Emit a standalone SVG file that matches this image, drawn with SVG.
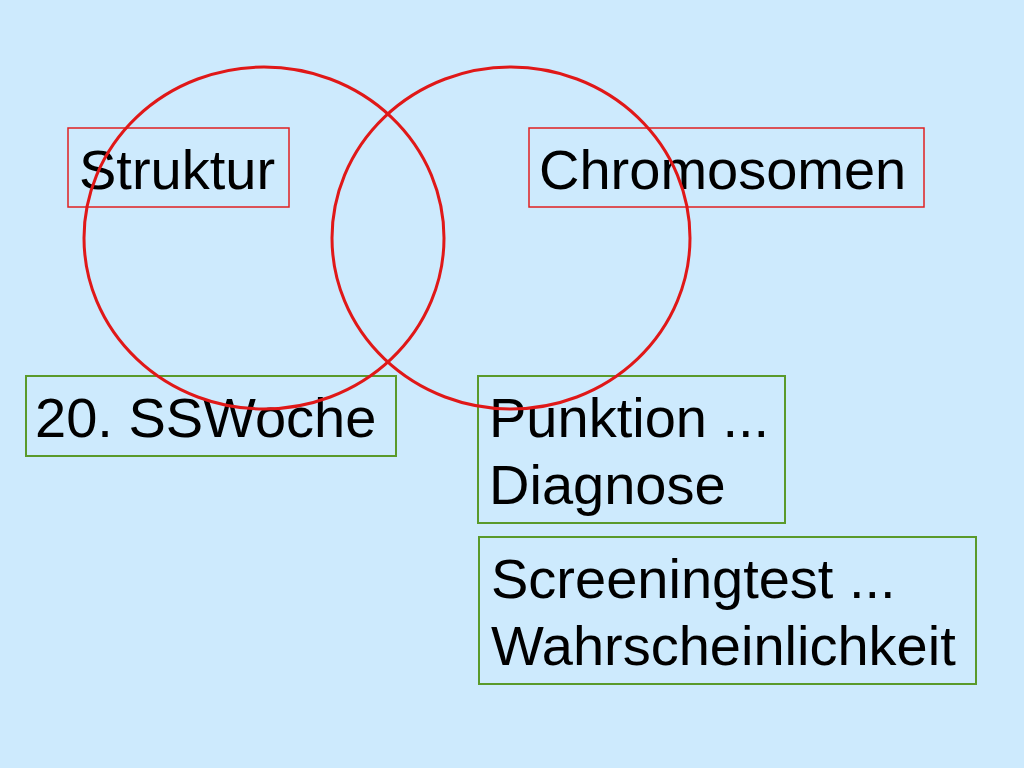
<svg xmlns="http://www.w3.org/2000/svg" width="1024" height="768" viewBox="0 0 1024 768">
<style>
.r{fill:none;stroke:#e02020;stroke-width:1.5}
.g{fill:none;stroke:#5a9a2a;stroke-width:2}
.c{fill:none;stroke:#e01818;stroke-width:3}
text{font-family:"Liberation Sans",Arial,sans-serif;font-size:56px;fill:#000}
</style>
<rect width="1024" height="768" fill="#cdeafd"/>
<g id="n1"><rect class="r" x="68" y="128" width="221" height="79"/><text x="79" y="189">Struktur</text></g>
<g id="n2"><rect class="r" x="529" y="128" width="395" height="79"/><text x="539" y="189">Chromosomen</text></g>
<g id="n3"><rect class="g" x="26" y="376" width="370" height="80"/><text x="35" y="437">20. SSWoche</text></g>
<g id="n4"><rect class="g" x="478" y="376" width="307" height="147"/><text x="489" y="437">Punktion ...</text><text x="489" y="504">Diagnose</text></g>
<g id="n5"><rect class="g" x="479" y="537" width="497" height="147"/><text x="491" y="598">Screeningtest ...</text><text x="491" y="665">Wahrscheinlichkeit</text></g>
<g id="circles"><ellipse class="c" cx="264" cy="238" rx="180" ry="171"/><ellipse class="c" cx="511" cy="238" rx="179" ry="171"/></g>
</svg>
